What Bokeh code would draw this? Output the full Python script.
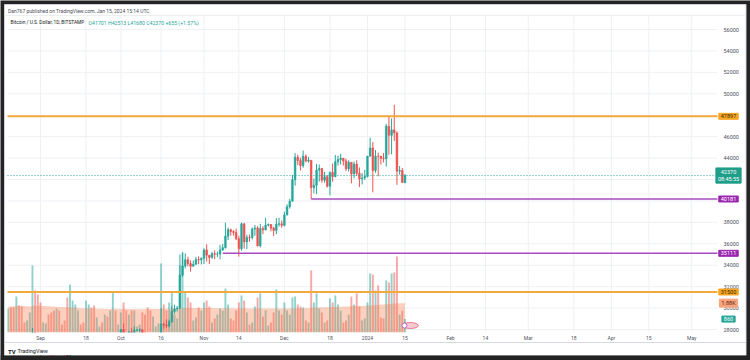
import pandas as pd
from bokeh.plotting import figure
from bokeh.models import Range1d, Label, ColumnDataSource
from bokeh.core.properties import value
from bokeh.embed import file_html
from bokeh.resources import INLINE

# ---------------- data ----------------
start_date = "2023-08-20"
end_date = "2024-01-15"

opens = [26100, 26190, 26120, 26050, 26430, 26160, 26060, 26010, 26090, 26100, 27720, 27300,
         25940, 25800, 25870, 25970, 25820, 25780, 25750, 26250, 25910, 25890, 25830, 25150, 25840, 26220,
         26530, 26600, 26570, 26530, 26760, 27210, 27130, 26570, 26580, 26580, 26250, 26300, 26210, 26350,
         27020, 26910,
         26970, 27990, 27500, 27430, 27790, 27410, 27930, 27950, 27970, 27590, 27390, 26870, 26750, 26860,
         26860, 27160, 28520, 28410, 28330, 28720, 29680, 29920, 30000, 33080, 33920, 34500, 34150, 33900,
         34090, 34530, 34500,
         34650, 35430, 34940, 34730, 35080, 35030, 35040, 35430, 35640, 36700, 37310, 37150, 37060, 36480,
         35540, 37860, 36170, 36590, 36580, 37370, 37470, 35810, 37420, 37300, 37740, 37800, 37460, 37250,
         37830, 37860,
         37720, 38690, 39460, 39970, 41980, 44080, 43770, 43290, 44170, 43720, 43790, 41240, 41470, 42880,
         43020, 41940, 42260, 41370, 42660, 42270, 43660, 43860, 43990, 43730, 43010, 43600, 42520, 43440,
         42590, 42070, 42140,
         42280, 44180, 44950, 42850, 44180, 44170, 43970, 43940, 46980, 46120, 46630, 46350, 42780, 42840,
         41701]
highs = [26300, 26260, 26140, 26800, 26560, 26300, 26110, 26180, 26220, 28140, 27760, 27570,
         26140, 25980, 26130, 26100, 25880, 26000, 26450, 26420, 25940, 26000, 25880, 26550, 26390, 26830,
         26890, 26670, 26620, 27420, 27480, 27380, 27160, 26720, 26630, 26730, 26430, 26390, 26820, 27300,
         27220, 27090,
         28050, 28590, 27660, 27830, 28120, 28270, 28000, 28100, 27980, 27740, 27480, 26940, 27090, 26970,
         27290, 30000, 28620, 28960, 28920, 30210, 30300, 30200, 34000, 35200, 35100, 34800, 34450, 34450,
         34780, 34830, 34720,
         35580, 35950, 34940, 35250, 35380, 35280, 35880, 35980, 37970, 37520, 37410, 37250, 37420, 36750,
         37980, 37930, 36850, 36870, 37520, 37750, 37650, 37860, 37650, 38430, 37900, 37840, 37590, 38400,
         38430, 38180,
         38990, 39690, 40190, 42420, 44460, 44320, 44040, 44700, 44360, 44080, 43790, 42080, 43450, 43400,
         43090, 42700, 42430, 42750, 43480, 44290, 44230, 44400, 44000, 43940, 43800, 43600, 43680, 43800,
         43120, 42600, 42900,
         44200, 45900, 45500, 44750, 44500, 44200, 44480, 47200, 47950, 47700, 48970, 46500, 43260, 43080,
         42513]
lows = [26000, 25810, 25350, 25800, 25860, 25780, 25970, 25990, 25880, 25920, 27030, 25700,
        25330, 25720, 25780, 25600, 25380, 25400, 25600, 25650, 25800, 25580, 24900, 25130, 25780, 26130,
        26250, 26470, 26420, 26390, 26680, 26810, 26380, 26490, 26530, 26130, 26000, 26100, 26110, 26340,
        26670, 26890,
        26950, 27340, 27170, 27220, 27380, 27180, 27850, 27700, 27290, 27300, 26560, 26540, 26700, 26820,
        26820, 27120, 28100, 28140, 28190, 28630, 29480, 29680, 29900, 32900, 33700, 33880, 33400, 33880,
        34060, 34100, 34070,
        34120, 34340, 34120, 34600, 34580, 34750, 34550, 35350, 35550, 36350, 36760, 36760, 36340, 34800,
        35360, 35550, 35500, 36190, 36400, 36750, 35750, 35660, 36900, 37250, 37620, 37160, 36720, 36900,
        37600, 37500,
        37620, 38650, 39280, 39970, 41420, 43350, 42850, 43100, 43600, 43570, 40181, 40700, 40630, 41800,
        41700, 41700, 41250, 40530, 41800, 42200, 43300, 43400, 43300, 42800, 42740, 41650, 42120, 42320,
        41300, 41540, 41970,
        42200, 44150, 40800, 42630, 42300, 43400, 43590, 43200, 44300, 44350, 45600, 41500, 42450, 41700,
        41680]
closes = [26190, 26120, 26050, 26430, 26160, 26060, 26010, 26090, 26100, 27720, 27300, 25940,
          25800, 25870, 25970, 25820, 25780, 25750, 26250, 25910, 25890, 25830, 25150, 25840, 26220, 26530,
          26600, 26570, 26530, 26760, 27210, 27130, 26570, 26580, 26580, 26250, 26300, 26210, 26350, 27020,
          26910, 26970,
          27990, 27500, 27430, 27790, 27410, 27930, 27950, 27970, 27590, 27390, 26870, 26750, 26860, 26860,
          27160, 28520, 28410, 28330, 28720, 29680, 29920, 30000, 33080, 33920, 34500, 34150, 33900, 34090,
          34530, 34500, 34650,
          35430, 34940, 34730, 35080, 35030, 35040, 35430, 35640, 36700, 37310, 37150, 37060, 36480, 35540,
          37860, 36170, 36590, 36580, 37370, 37470, 35810, 37420, 37300, 37740, 37800, 37460, 37250, 37830,
          37860, 37720,
          38690, 39460, 39970, 41980, 44080, 43770, 43290, 44170, 43720, 43790, 41240, 41470, 42880, 43020,
          41940, 42260, 41370, 42660, 42270, 43660, 43860, 43990, 43730, 43010, 43600, 42520, 43440, 42590,
          42070, 42140, 42280,
          44180, 44950, 42850, 44180, 44170, 43970, 43940, 46980, 46120, 46630, 46350, 42780, 42840, 41715,
          42370]
volumes = [1540, 1600, 1600, 2300, 1730, 1660, 640, 770, 1280, 4290, 2690, 2430,
           1920, 640, 580, 1150, 1280, 1410, 1540, 1410, 510, 770, 2240, 3070, 2050, 1790,
           1410, 510, 640, 2050, 1790, 1600, 1730, 960, 380, 640, 1150, 1020, 1410, 2560,
           1410, 510,
           1280, 1920, 1410, 1150, 1410, 1410, 380, 510, 1280, 1150, 1600, 1410, 1020, 380,
           580, 4420, 1790, 1410, 1920, 2560, 1150, 900, 4990, 5120, 2560, 2240, 1920, 770,
           960, 1600, 1410,
           1920, 2050, 1660, 640, 900, 1150, 1540, 1410, 2820, 1790, 900, 770, 1410, 1920,
           2370, 2050, 1280, 510, 640, 1660, 2240, 2500, 1020, 1410, 450, 640, 1280, 2750,
           1410, 1150,
           1920, 1410, 1150, 2240, 2300, 1790, 1660, 1600, 770, 640, 3970, 1920, 2500, 1540,
           1280, 640, 770, 2180, 1920, 2370, 1790, 1410, 640, 770, 1150, 2300, 1790, 2500,
           1660, 770, 900,
           1920, 3780, 3710, 2690, 3010, 960, 900, 3330, 3200, 3780, 3840, 4860, 1150, 1410,
           860]
volume_ma = [1670, 1675, 1680, 1700, 1705, 1700, 1690, 1680, 1670, 1710, 1720, 1720,
             1710, 1700, 1690, 1680, 1670, 1660, 1650, 1640, 1630, 1620, 1610, 1600, 1590, 1580,
             1570, 1560, 1550, 1545, 1540, 1535, 1530, 1525, 1520, 1515, 1510, 1510, 1510, 1515,
             1515, 1510,
             1505, 1505, 1500, 1500, 1500, 1500, 1495, 1495, 1495, 1500, 1500, 1500, 1500, 1500,
             1500, 1510, 1515, 1520, 1525, 1530, 1535, 1535, 1550, 1565, 1570, 1575, 1575, 1575,
             1575, 1575, 1575,
             1575, 1570, 1570, 1565, 1560, 1555, 1550, 1550, 1550, 1550, 1545, 1545, 1540, 1540,
             1540, 1540, 1540, 1535, 1535, 1535, 1535, 1535, 1535, 1535, 1530, 1530, 1530, 1530,
             1530, 1530,
             1530, 1530, 1530, 1535, 1540, 1545, 1550, 1555, 1560, 1560, 1580, 1590, 1600, 1605,
             1610, 1615, 1620, 1625, 1630, 1640, 1650, 1655, 1660, 1665, 1670, 1680, 1690, 1695,
             1700, 1700, 1705,
             1710, 1730, 1750, 1765, 1780, 1790, 1800, 1810, 1825, 1840, 1850, 1860, 1870, 1875,
             1880]

price_axis_ticks = [56000, 54000, 52000, 50000, 46000, 44000, 38000, 36000, 34000, 32000, 30000, 28000]
price_grid = [28000, 30000, 32000, 34000, 36000, 38000, 40000, 42000, 44000, 46000, 48000, 50000,
              52000, 54000, 56000]
time_tick_dates = ["2023-09-01", "2023-09-18", "2023-10-01", "2023-10-16", "2023-11-01", "2023-11-14",
                   "2023-12-01", "2023-12-18", "2024-01-01", "2024-01-15", "2024-02-01", "2024-02-14",
                   "2024-03-01", "2024-03-18", "2024-04-01", "2024-04-15", "2024-05-01"]
time_tick_labels = ["Sep", "18", "Oct", "16", "Nov", "14", "Dec", "18", "2024", "15", "Feb", "14",
                    "Mar", "18", "Apr", "15", "May"]

level_prices = [47897, 40181, 35111, 31500]
level_from = ["2023-08-18", "2023-12-11", "2023-11-08", "2023-08-18"]
level_colors = ["#f5a93d", "#a94bbd", "#a94bbd", "#f5a93d"]
level_widths = [2, 1.5, 1.5, 2]
level_tag_bg = ["#f6a623", "#9c27b0", "#9c27b0", "#f6a623"]
level_tag_fg = ["#3b2605", "#ffffff", "#ffffff", "#3b2605"]
countdown = "08:45:55"
author_line = "Dan767 published on TradingView.com, Jan 15, 2024 15:14 UTC"
symbol_line = "Bitcoin / U.S. Dollar, 1D, BITSTAMP"

# ---------------- styling / geometry (pixels of the 750x360 picture) ----------------
UP, DOWN = "#26a69a", "#ef5350"
FONT = "Roboto"
AX_COLOR = "#50535e"
GRID = "#eef0f4"
DARK = "#232323"
W, H = 750, 360
CARD_L, CARD_R, CARD_T, CARD_B = 4, 745.5, 4, 355
PL, PR, PT, PB = 7, 717, 15, 332          # price pane
TIME_B = 342                              # bottom of time scale
DAY = 86400000
PX_PER_DAY = 2.68
ms = lambda d: int(pd.Timestamp(d).value // 10**6)
T_SEP1 = ms("2023-09-01")
X_SEP1 = 40
P_HI, Y_HI, P_LO, Y_LO = 56000, 29, 28000, 329
VOL_PER_PX = 64


def xd(px):
    return T_SEP1 + (px - X_SEP1) / PX_PER_DAY * DAY


def yd(py):
    return P_HI - (py - Y_HI) * (P_HI - P_LO) / (Y_LO - Y_HI)


def vd(py):
    return (PB - py) * VOL_PER_PX


dates = pd.date_range(start_date, end_date, freq="D")
xs = [int(v) for v in (dates.asi8 // 10**6)]
colors = [UP if c >= o else DOWN for o, c in zip(opens, closes)]
src = ColumnDataSource(dict(
    x=xs, open=opens, high=highs, low=lows, close=closes,
    lo=[min(o, c) for o, c in zip(opens, closes)],
    hi=[max(o, c) for o, c in zip(opens, closes)],
    color=colors, vol=volumes, vma=volume_ma,
))

p = figure(width=W, height=H, x_range=Range1d(xd(0), xd(W)), y_range=Range1d(yd(H), yd(0)),
           x_axis_location=None, y_axis_location=None, toolbar_location=None, output_backend="svg",
           min_border=0, background_fill_color=DARK, border_fill_color=DARK, outline_line_color=None)
p.grid.visible = False
p.extra_y_ranges = {"vol": Range1d(vd(H), vd(0))}

# card
p.quad(left=xd(CARD_L), right=xd(CARD_R), top=yd(CARD_T), bottom=yd(CARD_B),
       fill_color="white", line_color="#cfd2d9", line_width=1)

# grid inside the price pane
tick_x = [ms(d) for d in time_tick_dates]
p.segment(x0=tick_x, y0=yd(PT), x1=tick_x, y1=yd(PB), line_color=GRID, line_width=1)
p.segment(x0=xd(PL), y0=price_grid, x1=xd(PR), y1=price_grid, line_color=GRID, line_width=1)

# volume + volume MA area
p.vbar(x="x", top="vol", bottom=0, width=0.72 * DAY, fill_color="color", fill_alpha=0.5,
       line_color=None, y_range_name="vol", source=src)
p.varea(x="x", y1=0, y2="vma", fill_color="#f57c4a", fill_alpha=0.35, y_range_name="vol", source=src)

# candles
p.segment(x0="x", y0="low", x1="x", y1="high", line_color="color", line_width=1, source=src)
p.vbar(x="x", bottom="lo", top="hi", width=0.62 * DAY, fill_color="color", line_color="color",
       line_width=0.6, source=src)

# horizontal levels (to the price scale)
p.segment(x0=[max(ms(d), xd(PL)) for d in level_from], y0=level_prices,
          x1=xd(PR), y1=level_prices, line_color=level_colors, line_width=level_widths)

# last price dotted line
p.segment(x0=xd(PL), y0=closes[-1], x1=xd(PR), y1=closes[-1], line_color=UP, line_dash="1 2",
          line_width=1)

# time scale area (hides what lies below the pane) and the dark surround below the card
p.quad(left=xd(CARD_L + 0.5), right=xd(CARD_R - 0.5), top=yd(PB), bottom=yd(CARD_B - 0.5),
       fill_color="white", line_color=None)
p.quad(left=xd(0), right=xd(W), top=yd(CARD_B), bottom=yd(H), fill_color=DARK, line_color=None)
p.segment(x0=xd(CARD_L), y0=yd(TIME_B), x1=xd(CARD_R), y1=yd(TIME_B), line_color="#d6d9e0", line_width=1)
p.segment(x0=xd(CARD_L), y0=yd(PT), x1=xd(CARD_R), y1=yd(PT), line_color="#eceef2", line_width=1)

# events badge next to the last bar
badge_x = xs[-1] + 2 * DAY
p.ellipse(x=badge_x, y=vd(325), width=16, height=6, width_units="screen", height_units="screen",
          fill_color="#f8c9d2", line_color="#e0607a", line_width=0.8, y_range_name="vol")
p.scatter(x=badge_x - 2.2 * DAY, y=vd(325), size=5, marker="circle", fill_color="white",
          line_color="#a94bbd", line_width=0.8, y_range_name="vol")

# axis labels
p.text(x=tick_x, y=yd(337.5), text=time_tick_labels, text_align="center", text_baseline="middle",
       text_font=value(FONT), text_font_size="5px", text_color=AX_COLOR)
p.text(x=xd(723), y=price_axis_ticks, text=[str(t) for t in price_axis_ticks], text_align="left",
       text_baseline="middle", text_font=value(FONT), text_font_size="5.5px", text_color=AX_COLOR)

TAG_X = xd(728)


def tag(y, text, bg, fg, rng="default"):
    p.add_layout(Label(x=TAG_X, y=y, y_range_name=rng, text=text,
                       text_align="center", text_baseline="middle", text_font_size="5.5px",
                       text_font=FONT, text_color=fg, background_fill_color=bg,
                       border_line_color=bg, padding=(2, 1)))


for lv, bg, fg in zip(level_prices, level_tag_bg, level_tag_fg):
    tag(lv, str(lv), bg, fg)
tag(closes[-1], f"{closes[-1]}\n{countdown}", "#1f9e89", "#ffffff")
tag(volume_ma[-1], f"{volume_ma[-1] / 1000:.2f}K", "#f7a37c", "#5a2a12", "vol")
tag(volumes[-1], f"{volumes[-1]}", UP, "#ffffff", "vol")

# header / legend / footer
chg = closes[-1] - closes[-2]
pct = chg / closes[-2] * 100
ohlc_line = f"O{opens[-1]} H{highs[-1]} L{lows[-1]} C{closes[-1]} {chg:+d} ({pct:+.2f}%)"


def text(px, py, s, color, size="5px", style="normal"):
    p.add_layout(Label(x=xd(px), y=yd(py), text=s, text_align="left", text_baseline="middle",
                       text_font_size=size, text_font=FONT, text_color=color, text_font_style=style))


text(7.5, 10, author_line, "#4a4d57", "5px")
text(10, 22, symbol_line, "#131722", "4.8px")
text(88, 22, ohlc_line, UP, "5.2px")
text(7.5, 350.5, "TV", "#131722", "6px", "bold")
text(17, 350.5, "TradingView", "#131722", "5.5px")

open("out.html", "w").write(file_html(p, INLINE))
